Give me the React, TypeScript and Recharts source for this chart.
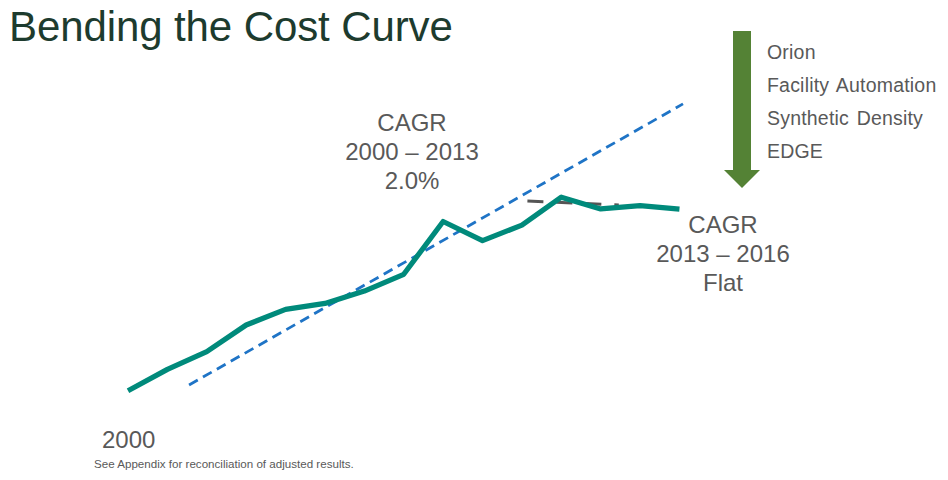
import { Line, LineChart, XAxis, YAxis } from "recharts";

// yearly index positions (0 = 2000) and cost index values
const years = [0, 1, 2, 3, 4, 5, 6, 7, 8, 9, 10, 11, 12, 13, 14];
const cost = [3.1, 10.2, 16.1, 25.0, 30.2, 32.2, 36.3, 41.9, 59.5, 53.1, 58.3, 67.6, 63.7, 64.8, 63.6];

// CAGR 2000-2013 trend (blue dashes) and flat trend (grey dashes)
const trendX = [1.55, 14.09];
const trendY = [5.0, 98.7];
const flatX = [10.14, 12.46];
const flatY = [66.3, 65.0];

const initiatives = ["Orion", "Facility Automation", "Synthetic Density", "EDGE"];
const leftNote = ["CAGR", "2000 – 2013", "2.0%"];
const rightNote = ["CAGR", "2013 – 2016", "Flat"];

const costRows = years.map((x, i) => ({ x, v: cost[i] }));
const trendRows = trendX.map((x, i) => ({ x, v: trendY[i] }));
const flatRows = flatX.map((x, i) => ({ x, v: flatY[i] }));

const FONT = "'Liberation Sans', Arial, sans-serif";
const GREY = "#595959";

export default function App() {
  return (
    <div style={{ position: "absolute", left: 0, top: 0, width: 948, height: 480, background: "#fff", fontFamily: FONT, overflow: "hidden" }}>
      <div style={{ position: "absolute", left: 9, top: 3, fontSize: 42, color: "#1d3b2e", letterSpacing: -0.1, whiteSpace: "nowrap" }}>
        Bending the Cost Curve
      </div>

      <LineChart width={948} height={480} margin={{ top: 100, right: 265, left: 128, bottom: 80 }} style={{ position: "absolute", left: 0, top: 0 }}>
        <XAxis type="number" dataKey="x" domain={[0, 14]} hide allowDuplicatedCategory={false} />
        <YAxis type="number" domain={[0, 100]} hide />
        <Line data={trendRows} dataKey="v" stroke="#1f74c6" strokeWidth={2.8} strokeDasharray="10 6" dot={false} isAnimationActive={false} />
        <Line data={flatRows} dataKey="v" stroke="#555555" strokeWidth={3} strokeDasharray="16 13" dot={false} isAnimationActive={false} />
        <Line data={costRows} dataKey="v" stroke="#008a7b" strokeWidth={5.2} strokeLinejoin="round" dot={false} isAnimationActive={false} />
      </LineChart>

      <div style={{ position: "absolute", left: 332, top: 108, width: 160, textAlign: "center", fontSize: 24, lineHeight: "29px", color: GREY }}>
        {leftNote.map((t) => (
          <div key={t}>{t}</div>
        ))}
      </div>
      <div style={{ position: "absolute", left: 643, top: 210, width: 160, textAlign: "center", fontSize: 24, lineHeight: "29px", color: GREY }}>
        {rightNote.map((t) => (
          <div key={t}>{t}</div>
        ))}
      </div>

      <svg width={948} height={480} style={{ position: "absolute", left: 0, top: 0 }}>
        <polygon points="733,31 751,31 751,170 760,170 742,188 724,170 733,170" fill="#548235" />
      </svg>
      <div style={{ position: "absolute", left: 767, top: 36, fontSize: 19.5, color: GREY, lineHeight: "33px", wordSpacing: 2, letterSpacing: 0.2 }}>
        {initiatives.map((t) => (
          <div key={t} style={{ whiteSpace: "nowrap" }}>{t}</div>
        ))}
      </div>

      <div style={{ position: "absolute", left: 102, top: 426, fontSize: 24, color: GREY }}>2000</div>
      <div style={{ position: "absolute", left: 94, top: 457, fontSize: 11.6, color: GREY }}>
        See Appendix for reconciliation of adjusted results.
      </div>
    </div>
  );
}
